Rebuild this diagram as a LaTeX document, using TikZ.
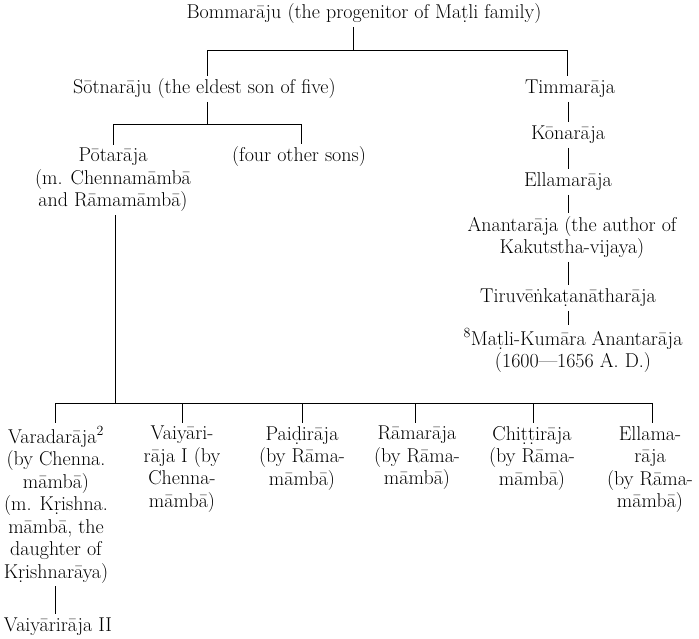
\documentclass[tikz,border=0pt]{standalone}
\tikzset{
  txt/.style={inner sep=0pt, font=\fontsize{20}{22.5}\selectfont, text height=14.5pt, text depth=5pt},
  blk/.style={inner sep=0pt, font=\fontsize{20}{22.5}\selectfont, align=center, anchor=north},
  conn/.style={draw=black, line width=0.6pt},
  fromtext/.style={shorten <=3pt},
  totext/.style={shorten >=3pt},
}
\begin{document}
\begin{tikzpicture}[x=1pt,y=-1pt]
\useasboundingbox[fill=white] (0,0) rectangle (699,638);
% top generation
\node[txt] (bomma) at (364,14) {Bommarāju (the progenitor of Maṭli family)};
\node[txt,anchor=west] (sot) at (73,89) {Sōtnarāju (the eldest son of five)};
\node[txt] (timma) at (570,89) {Timmarāja};
\coordinate (tb) at (353,50);
\coordinate (bl) at (207,50);
\coordinate (br) at (567,50);
\draw[conn,fromtext] (bomma.south -| tb) -- (tb);
\draw[conn] (bl) -- (br);
\draw[conn,totext] (bl) -- (bl |- sot.north);
\draw[conn,totext] (br) -- (br |- timma.north);
% Sotnaraju's sons
\node[blk] (pota) at (113,148) {Pōtarāja\\(m. Chennamāmbā\\and Rāmamāmbā)};
\node[txt] (four) at (299,157) {(four other sons)};
\coordinate (sb) at (207,124);
\coordinate (sl) at (113,124);
\coordinate (sr) at (301,124);
\draw[conn,fromtext] (sot.south -| sb) -- (sb);
\draw[conn] (sl) -- (sr);
\draw[conn,totext] (sl) -- (sl |- pota.north);
\draw[conn,totext] (sr) -- (sr |- four.north);
% right column
\coordinate (rx) at (568,0);
\node[txt] (kona) at (568,135) {Kōnarāja};
\node[txt] (ella) at (568,182) {Ellamarāja};
\node[blk] (anant) at (572,216) {Anantarāja (the author of\\Kakutstha-vijaya)};
\node[txt] (tiru) at (568,298) {Tiruvēṅkaṭanātharāja};
\node[blk] (matli) at (573,328) {\textsuperscript{8}Maṭli-Kumāra Anantarāja\\(1600---1656 A. D.)};
\draw[conn,fromtext,totext] (timma.south -| rx) -- (kona.north -| rx);
\draw[conn,fromtext,totext] (kona.south -| rx) -- (ella.north -| rx);
\draw[conn,fromtext,totext] (ella.south -| rx) -- (anant.north -| rx);
\draw[conn,fromtext,totext] (anant.south -| rx) -- (tiru.north -| rx);
\draw[conn,fromtext,totext] (tiru.south -| rx) -- (matli.north -| rx);
% Potaraja's sons
\coordinate (pb) at (115,403);
\coordinate (b1) at (55,403);
\coordinate (b2) at (182,403);
\coordinate (b3) at (302,403);
\coordinate (b4) at (415,403);
\coordinate (b5) at (533,403);
\coordinate (b6) at (652,403);
\draw[conn,fromtext] (pota.south -| pb) -- (pb);
\draw[conn] (b1) -- (b6);
\node[blk] (vara) at (56,426) {Varadarāja\textsuperscript{2}\\(by Chenna.\\māmbā)\\(m. Kṛishna.\\māmbā, the\\daughter of\\Kṛishnarāya)};
\node[blk] (vai1) at (182,426) {Vaiyāri-\\rāja I (by\\Chenna-\\māmbā)};
\node[blk] (paidi) at (302,426) {Paiḍirāja\\(by Rāma-\\māmbā)};
\node[blk] (rama) at (417,426) {Rāmarāja\\(by Rāma-\\māmbā)};
\node[blk] (chitti) at (532,426) {Chiṭṭirāja\\(by Rāma-\\māmbā)};
\node[blk] (ellama) at (650,426) {Ellama-\\rāja\\(by Rāma-\\māmbā)};
\draw[conn,totext] (b1) -- (b1 |- vara.north);
\draw[conn,totext] (b2) -- (b2 |- vai1.north);
\draw[conn,totext] (b3) -- (b3 |- paidi.north);
\draw[conn,totext] (b4) -- (b4 |- rama.north);
\draw[conn,totext] (b5) -- (b5 |- chitti.north);
\draw[conn,totext] (b6) -- (b6 |- ellama.north);
\node[txt] (vaiy2) at (58,627) {Vaiyārirāja II};
\draw[conn,fromtext,totext] (vara.south -| b1) -- (vaiy2.north -| b1);
\end{tikzpicture}
\end{document}
